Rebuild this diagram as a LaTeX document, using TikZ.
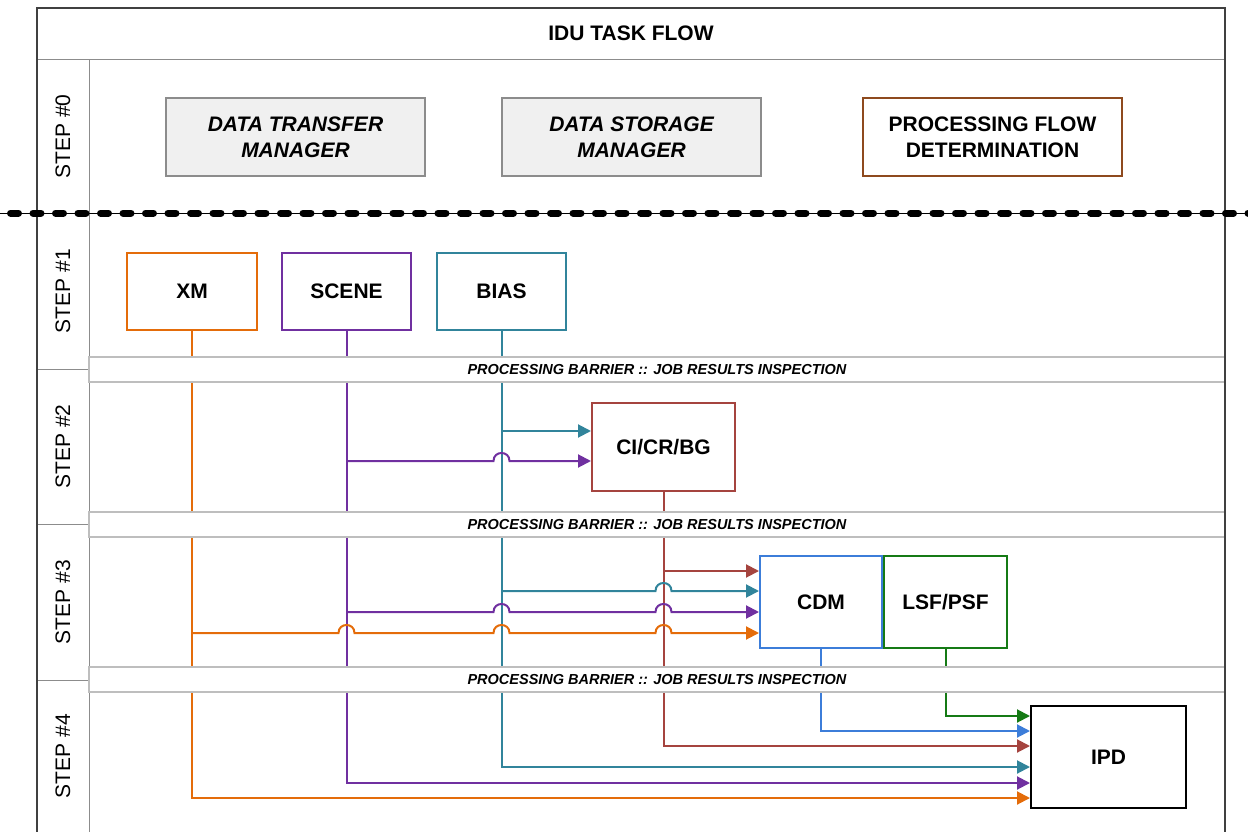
\documentclass[tikz,border=0pt]{standalone}
\usepackage{fontspec}
\setmainfont{Liberation Sans}
\usetikzlibrary{arrows.meta,calc}

\definecolor{cOrange}{HTML}{E46C0A}
\definecolor{cPurple}{HTML}{7030A0}
\definecolor{cTeal}{HTML}{31849B}
\definecolor{cRed}{HTML}{A5443F}
\definecolor{cBlue}{HTML}{3C7DD9}
\definecolor{cGreen}{HTML}{157A15}
\definecolor{cBrown}{HTML}{8E4A1E}
\definecolor{frameGray}{HTML}{404040}
\definecolor{ruleGray}{HTML}{8C8C8C}
\definecolor{bandGray}{HTML}{BEBEBE}
\definecolor{mgrFill}{HTML}{F0F0F0}

% a horizontal connector hopping over the trunk below node #1 at height #2
\newcommand\hop[2]{%
  -- ($(#1.south |- 0,#2)+(-8,0)$)
  .. controls ($(#1.south |- 0,#2)+(-8,-10.7)$) and ($(#1.south |- 0,#2)+(8,-10.7)$)
  .. ($(#1.south |- 0,#2)+(8,0)$)}

\tikzset{
  bigtext/.style={font=\fontsize{21}{26}\selectfont\bfseries, align=center},
  steplabel/.style={font=\fontsize{21}{24}\selectfont, rotate=90},
  mgrbox/.style={bigtext, draw=ruleGray, line width=2pt, fill=mgrFill,
    minimum width=259, minimum height=78, inner sep=0pt},
  taskbox/.style={bigtext, draw=#1, line width=2pt, fill=white, inner sep=0pt},
  barrier/.style={draw=bandGray, line width=1.5pt, fill=white,
    minimum width=1136, minimum height=25, inner sep=0pt,
    font=\fontsize{14.5}{16}\selectfont\bfseries\itshape},
  flow/.style={line width=2pt, -{Triangle[length=13pt,width=13pt]}},
}

\begin{document}
\begin{tikzpicture}[x=1pt,y=-1pt]
\useasboundingbox (0,0) rectangle (1248,832);

% swimlane grid
\draw[ruleGray, line width=1pt] (37,60) -- (1225,60);
\draw[ruleGray, line width=1pt] (89,60) -- (89,832);
\draw[ruleGray, line width=1pt] (37,213) -- (1225,213);
\foreach \yy in {369,524,680} \draw[ruleGray, line width=1pt] (37,\yy) -- (89,\yy);

% title and step labels
\node[bigtext] (title) at (631,33) {IDU TASK FLOW};
\node[steplabel] (s0) at (63,136.5) {STEP \#0};
\node[steplabel] (s1) at (63,291) {STEP \#1};
\node[steplabel] (s2) at (63,446.5) {STEP \#2};
\node[steplabel] (s3) at (63,602) {STEP \#3};
\node[steplabel] (s4) at (63,756) {STEP \#4};

% step 0 services
\node[mgrbox] (dtm) at (295.5,137) {\itshape DATA TRANSFER\\\itshape MANAGER};
\node[mgrbox] (dsm) at (631.5,137) {\itshape DATA STORAGE\\\itshape MANAGER};
\node[mgrbox, draw=cBrown, fill=white] (pfd) at (992.5,137) {PROCESSING FLOW\\DETERMINATION};

% tasks
\node[taskbox=cOrange, minimum width=130, minimum height=77] (xm) at (192,291.5) {XM};
\node[taskbox=cPurple, minimum width=129, minimum height=77] (scene) at (346.5,291.5) {SCENE};
\node[taskbox=cTeal, minimum width=129, minimum height=77] (bias) at (501.5,291.5) {BIAS};
\node[taskbox=cRed, minimum width=143, minimum height=88] (ci) at (663.5,447) {CI/CR/BG};
\node[taskbox=cBlue, minimum width=122, minimum height=92] (cdm) at (821,602) {CDM};
\node[taskbox=cGreen, minimum width=123, minimum height=92] (lsf) at (945.5,602) {LSF/PSF};
\node[taskbox=black, minimum width=155, minimum height=102] (ipd) at (1108.5,757) {IPD};

% step 4 inputs (trunks run down from each task)
\draw[flow, cOrange] (xm.south) |- (ipd.west |- 0,798);
\draw[flow, cPurple] (scene.south) |- (ipd.west |- 0,783);
\draw[flow, cTeal] (bias.south) |- (ipd.west |- 0,767);
\draw[flow, cRed] (ci.south) |- (ipd.west |- 0,746);
\draw[flow, cBlue] (cdm.south) |- (ipd.west |- 0,731);
\draw[flow, cGreen] (lsf.south) |- (ipd.west |- 0,716);

% step 2 inputs
\draw[flow, cTeal] (bias.south |- 0,431) -- (ci.west |- 0,431);
\draw[flow, cPurple] (scene.south |- 0,461) \hop{bias}{461} -- (ci.west |- 0,461);

% step 3 inputs
\draw[flow, cRed] (ci.south |- 0,571) -- (cdm.west |- 0,571);
\draw[flow, cTeal] (bias.south |- 0,591) \hop{ci}{591} -- (cdm.west |- 0,591);
\draw[flow, cPurple] (scene.south |- 0,612) \hop{bias}{612} \hop{ci}{612} -- (cdm.west |- 0,612);
\draw[flow, cOrange] (xm.south |- 0,633) \hop{scene}{633} \hop{bias}{633} \hop{ci}{633} -- (cdm.west |- 0,633);

% processing barriers
\node[barrier] (b1) at (657,369.5) {PROCESSING BARRIER :: JOB RESULTS INSPECTION};
\node[barrier] (b2) at (657,524.5) {PROCESSING BARRIER :: JOB RESULTS INSPECTION};
\node[barrier] (b3) at (657,679.5) {PROCESSING BARRIER :: JOB RESULTS INSPECTION};

% outer frame
\draw[frameGray, line width=1.5pt] (37,832) -- (37,8) -- (1225,8) -- (1225,832);

% separator between setup and processing steps
\draw[black, line width=1pt] (0,213) -- (1248,213);
\draw[black, line width=7pt, line cap=round, dash pattern=on 8pt off 14.5pt] (10.5,213) -- (1260,213);
\end{tikzpicture}
\end{document}
